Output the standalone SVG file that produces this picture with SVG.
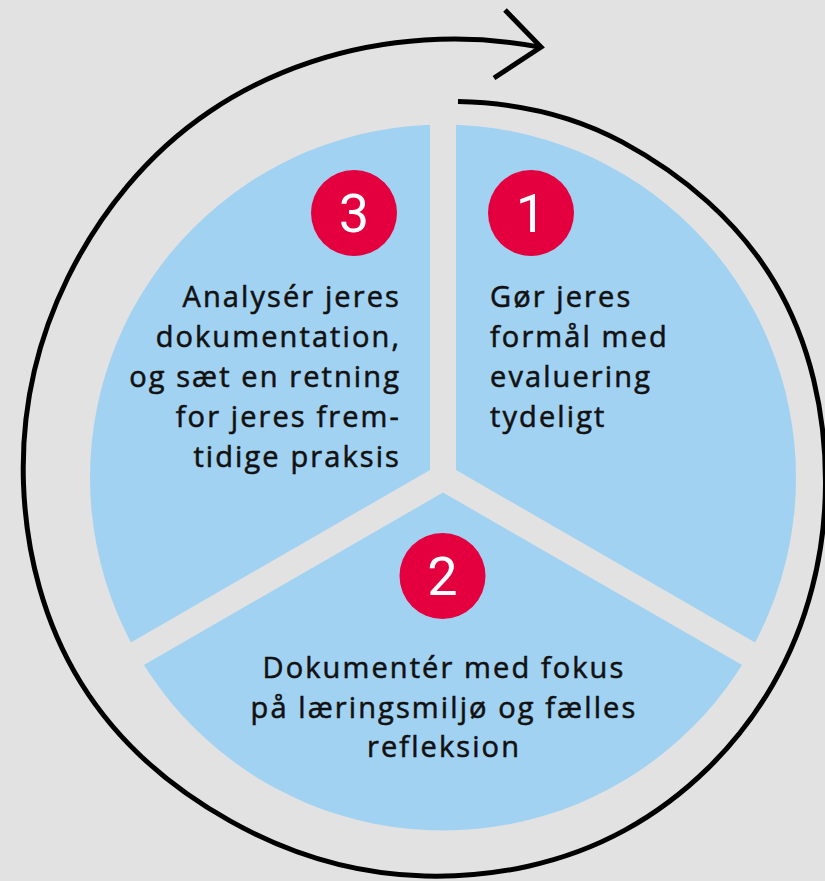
<svg xmlns="http://www.w3.org/2000/svg" width="825" height="881" viewBox="0 0 825 881">
<style>
.bg{fill:#e2e2e2}
.pie{fill:#a2d2f2}
.gap{stroke:#e2e2e2;stroke-width:26;fill:none}
.ring{fill:none;stroke:#000;stroke-width:5;stroke-linejoin:miter;stroke-linecap:butt}
.badge{fill:#e4003f}
.num{font-family:Roboto,"Liberation Sans",sans-serif;font-size:54px;fill:#fff;text-anchor:middle}
.lbl{font-family:"Open Sans","Noto Sans","Liberation Sans",sans-serif;font-weight:500;font-size:29px;fill:#111;stroke:#111;stroke-width:0.55px;letter-spacing:2.1px}
</style>
<rect class="bg" x="0" y="0" width="825" height="881"/>
<g id="pie">
<circle class="pie" cx="443" cy="477.5" r="353"/>
<path class="gap" d="M443 477.5V118M443 477.5L756 658M443 477.5L130 658"/>
<circle cx="443" cy="477.5" r="13" fill="#e2e2e2"/>
</g>
<g id="connectors">
<path class="ring" d="M458 101.5C513.95 102.7 571.4 114.6 622 141.9C682.7 174.6 738.3 221.4 774.4 282C810.5 342.6 825.8 414 825.5 484C825.2 554 807.8 624.3 772.6 685C737.4 745.7 685.8 796.9 624.5 830.4C563.2 863.9 492.9 877.8 424.5 876C356.1 874.2 289.2 854.1 230 820.9C170.8 787.7 117.1 741.5 80.7 682.5C44.3 623.5 26 554 23.5 484C21 414 35.9 342.7 67.7 278C99.5 213.3 147.2 153.7 209.5 111.6C271.8 69.5 347 44.9 424.5 40C463.2 37.6 502.7 39.8 541.5 47.4"/>
<path class="ring" d="M505 10L541 47L494 78"/>
</g>
<g id="step1">
<circle class="badge" cx="531" cy="213" r="43"/>
<text class="num" x="531" y="232">1</text>
<text class="lbl" x="490"><tspan x="490" y="307">Gør jeres</tspan><tspan x="490" y="347">formål med</tspan><tspan x="490" y="387">evaluering</tspan><tspan x="490" y="427">tydeligt</tspan></text>
</g>
<g id="step2">
<circle class="badge" cx="442.5" cy="576" r="43"/>
<text class="num" x="442.5" y="595">2</text>
<text class="lbl" text-anchor="middle"><tspan x="444" y="678">Dokumentér med fokus</tspan><tspan x="444" y="718">på læringsmiljø og fælles</tspan><tspan x="444" y="757">refleksion</tspan></text>
</g>
<g id="step3">
<circle class="badge" cx="354" cy="213" r="43"/>
<text class="num" x="354" y="232">3</text>
<text class="lbl" text-anchor="end"><tspan x="401" y="307">Analysér jeres</tspan><tspan x="401" y="347">dokumentation,</tspan><tspan x="401" y="387">og sæt en retning</tspan><tspan x="401" y="427">for jeres frem-</tspan><tspan x="401" y="467">tidige praksis</tspan></text>
</g>
</svg>
